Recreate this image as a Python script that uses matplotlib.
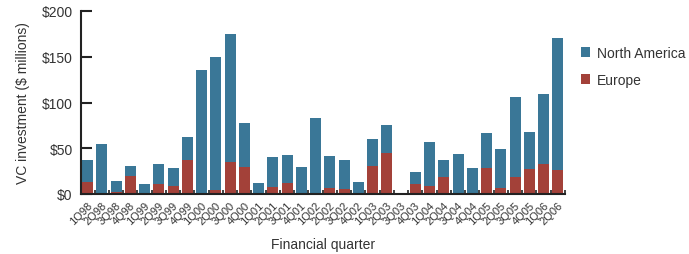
import matplotlib
matplotlib.use("Agg")
import matplotlib.pyplot as plt
from matplotlib.patches import Patch
import numpy as np

quarters = ["1Q98","2Q98","3Q98","4Q98","1Q99","2Q99","3Q99","4Q99",
            "1Q00","2Q00","3Q00","4Q00","1Q01","2Q01","3Q01","4Q01",
            "1Q02","2Q02","3Q02","4Q02","1Q03","2Q03","3Q03","4Q03",
            "1Q04","2Q04","3Q04","4Q04","1Q05","2Q05","3Q05","4Q05",
            "1Q06","2Q06"]
totals = [37, 54.5, 14, 30.5, 11, 32.7, 28.4, 62, 135, 149.5, 174.6, 77.5,
          12, 40.4, 42.5, 29.5, 83, 41.5, 37, 13, 60, 75.3, 1.2, 24,
          56.7, 37, 43.6, 28.4, 66.5, 49, 106, 67.6, 109, 171]
europe = [13, 0, 2, 19.6, 0, 11, 8.7, 37, 0, 4.4, 35, 29.5,
          0, 7.6, 12, 0, 0, 6.5, 5.5, 0, 30.5, 44.7, 0, 11,
          8.7, 18.5, 0, 0, 28.4, 6.5, 18.5, 27.3, 32.7, 26]
north_america = [t - e for t, e in zip(totals, europe)]
yticks = [0, 50, 100, 150, 200]
ytick_labels = ["$0", "$50", "$100", "$150", "$200"]

plt.rcParams['font.family'] = ['Liberation Sans', 'DejaVu Sans']
blue = "#3a7797"
red = "#a34139"
txt = "#333333"

fig = plt.figure(figsize=(6.89, 2.55), dpi=100)
ax = fig.add_axes([81/689, 1-195/255, (565-81)/689, (195-12)/255])

x = np.arange(len(quarters))
w = 0.78
ax.bar(x, europe, width=w, color=red, linewidth=0, zorder=2)
ax.bar(x, north_america, bottom=europe, width=w, color=blue, linewidth=0, zorder=2)

ax.set_xlim(-0.46, len(quarters) - 0.5)
ax.set_ylim(0, 200)
ax.set_yticks(yticks)
ax.set_yticklabels(ytick_labels, fontsize=10, color=txt)
ax.tick_params(axis='y', direction='in', length=8, width=1.5, color="#222222", pad=6)

ax.set_xticks(x)
ax.set_xticklabels(quarters, rotation=45, ha='right', rotation_mode='anchor',
                   fontsize=8, color=txt)
ax.tick_params(axis='x', which='major', length=0, pad=4)
ax.set_xticks(x + 0.5, minor=True)
ax.tick_params(axis='x', which='minor', direction='in', length=3, width=1.2, color="#222222")

for s in ['top', 'right']:
    ax.spines[s].set_visible(False)
for s in ['left', 'bottom']:
    ax.spines[s].set_linewidth(1.5)
    ax.spines[s].set_color("#222222")
ax.spines['bottom'].set_zorder(3)

ax.set_ylabel("VC investment ($ millions)", fontsize=10, color=txt, labelpad=8)
ax.set_xlabel("Financial quarter", fontsize=10, color=txt, labelpad=8)

handles = [Patch(facecolor=blue, label="North America"),
           Patch(facecolor=red, label="Europe")]
fig.legend(handles=handles, loc='upper left', bbox_to_anchor=(568/689, 1-34/255),
           frameon=False, fontsize=10, handlelength=0.7, handleheight=0.7,
           handletextpad=0.5, labelspacing=0.95, labelcolor=txt)

fig.savefig("out.png", dpi=100)
